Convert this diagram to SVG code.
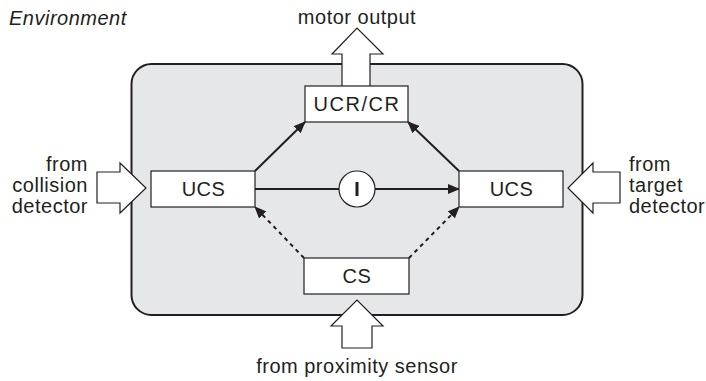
<svg xmlns="http://www.w3.org/2000/svg" width="706" height="381" viewBox="0 0 706 381">
<style>
text{font-family:"Liberation Sans",Arial,sans-serif;font-size:20px;letter-spacing:0.5px;fill:#231f20}
.box{fill:#fff;stroke:#231f20;stroke-width:1.2}
.bigarrow{fill:#fff;stroke:#231f20;stroke-width:1.2;stroke-linejoin:miter}
.conn{stroke:#231f20;stroke-width:2;fill:none}
.dash{stroke-dasharray:4,4}
</style>
<defs>
<marker id="ah" viewBox="0 0 12 10" refX="11" refY="5" markerWidth="12" markerHeight="10" markerUnits="userSpaceOnUse" orient="auto">
<path d="M0,0 L12,5 L0,10 Z" fill="#231f20"/>
</marker>
</defs>
<rect id="env-box" x="131.5" y="64" width="451" height="251" rx="20" ry="20" fill="#e6e7e8" stroke="#231f20" stroke-width="2"/>
<text x="9" y="25" font-style="italic">Environment</text>

<g id="motor-output">
<path class="bigarrow" d="M342,86 L342,54 L332,54 L357,28 L383,54 L370,54 L370,86"/>
<text x="357" y="24" text-anchor="middle">motor output</text>
</g>
<g id="collision-input">
<path class="bigarrow" d="M97,172 L120,172 L120,163 L146,188 L120,213 L120,203 L97,203 Z"/>
<text x="88" y="170.5" text-anchor="end">from</text>
<text x="88" y="191.5" text-anchor="end">collision</text>
<text x="88" y="212.5" text-anchor="end">detector</text>
</g>
<g id="target-input">
<path class="bigarrow" d="M620,172 L593,172 L593,163 L568,188 L593,213 L593,203 L620,203 Z"/>
<text x="629" y="170.5">from</text>
<text x="629" y="191.5">target</text>
<text x="629" y="212.5">detector</text>
</g>
<g id="proximity-input">
<path class="bigarrow" d="M342,348 L342,326 L331,326 L357,300 L383,326 L372,326 L372,348 Z"/>
<text x="357" y="373" text-anchor="middle">from proximity sensor</text>
</g>

<g id="connectors">
<line class="conn" x1="255" y1="171" x2="305" y2="122" marker-end="url(#ah)"/>
<line class="conn" x1="459" y1="171" x2="408" y2="122" marker-end="url(#ah)"/>
<line class="conn" x1="255" y1="189" x2="339" y2="189"/>
<line class="conn" x1="375" y1="189" x2="459" y2="189" marker-end="url(#ah)"/>
<line class="conn dash" x1="304" y1="258" x2="255" y2="207" marker-end="url(#ah)"/>
<line class="conn dash" x1="409" y1="258" x2="459" y2="207" marker-end="url(#ah)"/>
</g>

<g id="ucr-cr">
<rect class="box" x="305" y="86" width="103" height="36"/>
<text x="357" y="111" text-anchor="middle" style="letter-spacing:1.5px">UCR/CR</text>
</g>
<g id="ucs-left">
<rect class="box" x="151" y="171" width="104" height="36"/>
<text x="203.5" y="196" text-anchor="middle">UCS</text>
</g>
<g id="ucs-right">
<rect class="box" x="459" y="171" width="104" height="36"/>
<text x="511.5" y="196" text-anchor="middle">UCS</text>
</g>
<g id="cs">
<rect class="box" x="304" y="258" width="105" height="36"/>
<text x="357" y="283" text-anchor="middle">CS</text>
</g>
<g id="inhibitor">
<circle cx="357" cy="189" r="18" fill="#fff" stroke="#231f20" stroke-width="1.2"/>
<rect x="355.5" y="182" width="3" height="14" fill="#231f20"/>
</g>
</svg>
